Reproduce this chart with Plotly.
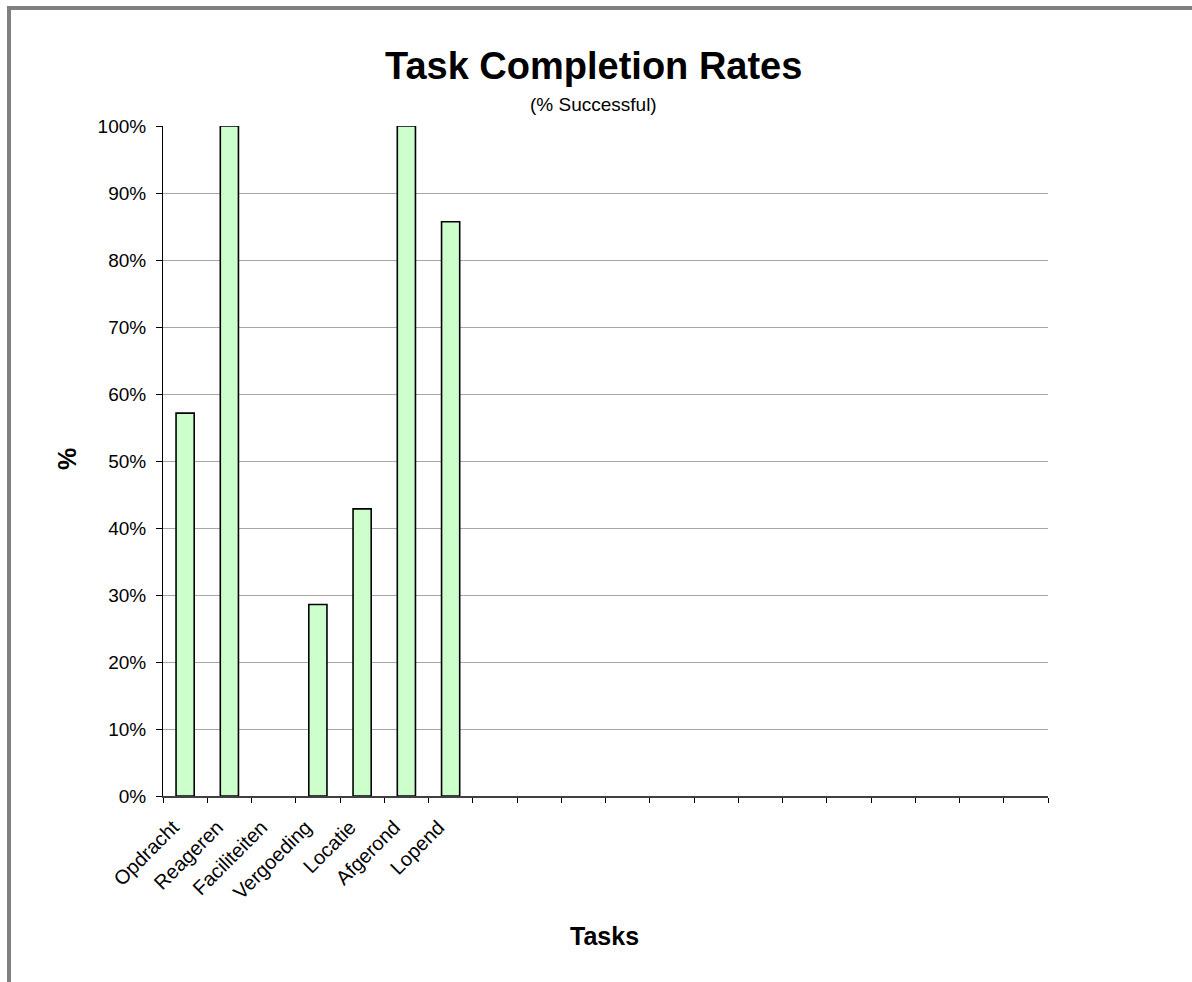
import plotly.graph_objects as go

# Task names and completion share per task (fraction of participants)
tasks = ["Opdracht", "Reageren", "Faciliteiten", "Vergoeding", "Locatie", "Afgerond", "Lopend"]
completion = [4 / 7, 7 / 7, 0.0, 2 / 7, 3 / 7, 7 / 7, 6 / 7]

# The chart reserves 20 task slots; the unused ones stay empty
total_slots = 20
empty_slots = [" " * (i + 1) for i in range(total_slots - len(tasks))]

y_ticks = [i / 10 for i in range(11)]

W, H = 1192, 982
L, R, T, B = 163, 1048, 126, 796  # plot area in pixels


def px_x(px):
    return (px - L) / (R - L)


def px_y(py):
    return (B - py) / (B - T)


FONT = "Liberation Sans, Arial, sans-serif"

# a zero-height bar gets no outline, so it stays invisible
outline_widths = [1.6 if v > 0 else 0 for v in completion]

fig = go.Figure()
fig.add_trace(
    go.Bar(
        x=tasks + empty_slots,
        y=completion + [None] * len(empty_slots),
        marker=dict(color="#CCFFCC",
                    line=dict(color="#000000",
                              width=outline_widths + [0] * len(empty_slots))),
        hoverinfo="x+y",
    )
)

fig.update_layout(
    width=W,
    height=H,
    margin=dict(l=L, r=W - R, t=T, b=H - B, pad=0),
    paper_bgcolor="white",
    plot_bgcolor="white",
    bargap=0.59,
    showlegend=False,
    font=dict(family=FONT, color="black", size=18),
)

fig.update_xaxes(
    type="category",
    categoryorder="array",
    categoryarray=tasks + empty_slots,
    tickson="boundaries",
    ticks="outside",
    ticklen=5,
    tickcolor="#000000",
    tickwidth=1,
    showline=True,
    linecolor="#404040",
    linewidth=1.5,
    tickangle=-45,
    tickfont=dict(size=20, family=FONT),
    ticklabelshift=-12,
    ticklabelstandoff=10,
    showgrid=False,
    range=[-0.5, total_slots - 0.5],
)

fig.update_yaxes(
    range=[0, 1],
    tickvals=y_ticks,
    tickformat=".0%",
    ticks="outside",
    ticklen=6,
    tickcolor="#000000",
    showline=True,
    linecolor="#000000",
    linewidth=1,
    showgrid=True,
    gridcolor="#A6A6A6",
    gridwidth=1,
    zeroline=False,
    tickfont=dict(size=19, family=FONT),
    ticklabelstandoff=6,
)

annotations = [
    dict(text="<b>Task Completion Rates</b>", x=px_x(593), y=px_y(66),
         font=dict(size=38, family=FONT)),
    dict(text="(% Successful)", x=px_x(593), y=px_y(104),
         font=dict(size=19, family=FONT)),
    dict(text="<b>%</b>", x=px_x(67), y=px_y(459), textangle=-90,
         font=dict(size=25, family=FONT)),
    dict(text="<b>Tasks</b>", x=px_x(604), y=px_y(936),
         font=dict(size=25, family=FONT)),
]
for a in annotations:
    a.update(xref="paper", yref="paper", showarrow=False,
             xanchor="center", yanchor="middle")
fig.update_layout(annotations=annotations)

# Grey chart frame along the top and left
frame = dict(color="#808080", width=4)
fig.add_shape(type="line", xref="paper", yref="paper",
              x0=px_x(7), x1=px_x(W + 10), y0=px_y(8), y1=px_y(8), line=frame)
fig.add_shape(type="line", xref="paper", yref="paper",
              x0=px_x(9), x1=px_x(9), y0=px_y(6), y1=px_y(H + 10), line=frame)

fig.write_html("out.html")
